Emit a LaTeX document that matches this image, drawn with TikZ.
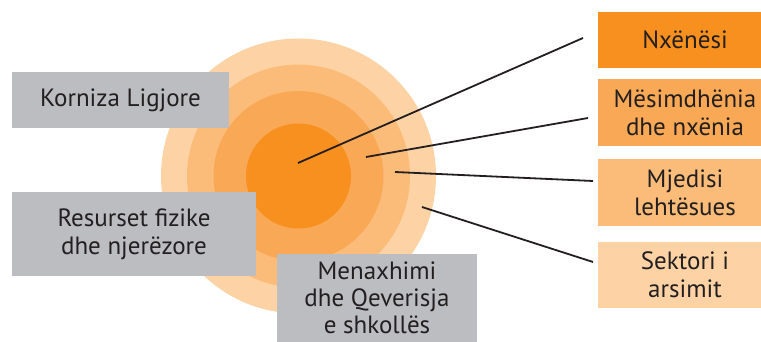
\documentclass[tikz,border=0pt]{standalone}
\usepackage{fontspec}
\setmainfont{PT Sans}
\usetikzlibrary{positioning}
\definecolor{ringA}{HTML}{F7901E}
\definecolor{ringB}{HTML}{F9A855}
\definecolor{ringC}{HTML}{FBBC7A}
\definecolor{ringD}{HTML}{FDD3A5}
\definecolor{boxgray}{HTML}{BCBDC0}
\definecolor{ink}{HTML}{231F20}
\tikzset{
  box/.style={rectangle, inner sep=0pt, align=center, text=ink,
    font=\fontsize{25}{28}\selectfont},
  graybox/.style={box, fill=boxgray},
  link/.style={line width=1.8pt, ink}
}

\begin{document}
\begin{tikzpicture}[x=1pt,y=-1pt]
\useasboundingbox (0,0) rectangle (761,342);
% rings
\foreach \r/\c in {137.5/ringD,111.5/ringC,85/ringB,52.5/ringA}{
\fill[\c] (298.5,176) circle (\r pt);
}
% left boxes
\node[graybox, minimum width=217pt, minimum height=56pt] (korniza) at (120.5,100) {Korniza Ligjore};
\node[graybox, minimum width=244pt, minimum height=84pt] (resurset) at (134,234) {Resurset fizike\\dhe njerëzore};
\node[graybox, minimum width=200pt, minimum height=88pt, font=\fontsize{25}{27}\selectfont] (menaxhimi) at (377,298) {Menaxhimi\\dhe Qeverisja\\e shkollës};
\fill[boxgray] (menaxhimi.south west) rectangle ++(200,10);
% right boxes
\node[box, fill=ringA, minimum width=174pt, minimum height=56pt] (nxenesi) at (685,40) {Nxënësi};
\node[box, fill=ringB, minimum width=174pt, minimum height=67pt] (mesimdh) at (685,112.5) {Mësimdhënia\\dhe nxënia};
\node[box, fill=ringC, minimum width=174pt, minimum height=67pt] (mjedisi) at (685,192.5) {Mjedisi\\lehtësues};
\node[box, fill=ringD, minimum width=174pt, minimum height=66pt] (sektori) at (685,275) {Sektori i\\arsimit};
%
\coordinate (a1) at (298,163);
\coordinate (b1) at (583,38);
\coordinate (a2) at (366,157);
\coordinate (b2) at (588,118);
\coordinate (a3) at (395,172);
\coordinate (b3) at (593,181);
\coordinate (a4) at (422,207);
\coordinate (b4) at (593,262);
\foreach \i in {1,...,4}{
\draw[link] (a\i) -- (b\i);
}
\end{tikzpicture}
\end{document}
